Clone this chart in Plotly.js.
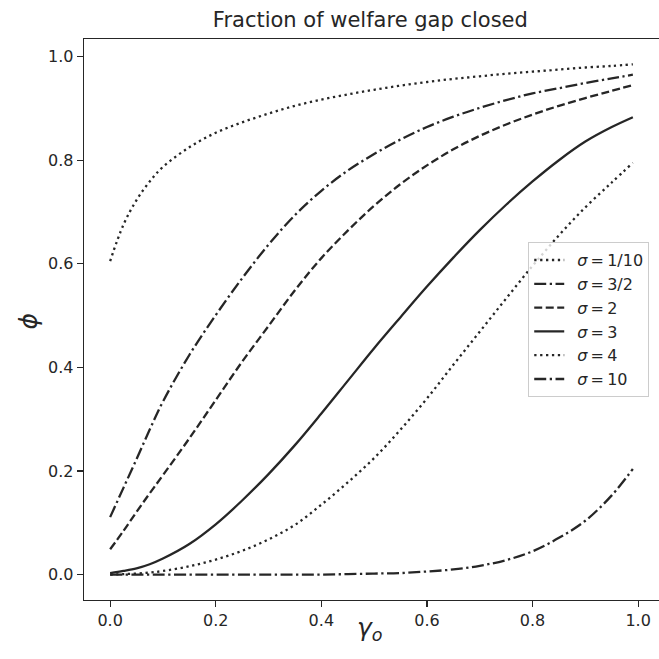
<!DOCTYPE html>
<html>
<head>
<meta charset="utf-8">
<script src="https://cdn.plot.ly/plotly-3.0.1.min.js"></script>
<style>html,body{margin:0;padding:0;background:#fff;}#chart{width:659px;height:659px;}</style>
</head>
<body>
<div id="chart"></div>
<script>
const gammaO = [0, 0.025, 0.05, 0.075, 0.1, 0.15, 0.2, 0.25, 0.3, 0.35, 0.4, 0.45, 0.5, 0.55, 0.6, 0.65, 0.7, 0.75, 0.8, 0.85, 0.9, 0.95, 0.99];
const phiSigma1_10 = [0.605, 0.675, 0.723, 0.759, 0.787, 0.825, 0.853, 0.873, 0.890, 0.905, 0.917, 0.927, 0.936, 0.944, 0.951, 0.957, 0.962, 0.967, 0.971, 0.975, 0.979, 0.982, 0.985];
const phiSigma3_2 = [0.111, 0.167, 0.223, 0.280, 0.334, 0.424, 0.501, 0.572, 0.637, 0.694, 0.741, 0.780, 0.812, 0.840, 0.864, 0.884, 0.901, 0.916, 0.929, 0.939, 0.949, 0.958, 0.965];
const phiSigma2 = [0.049, 0.084, 0.121, 0.157, 0.192, 0.263, 0.337, 0.411, 0.480, 0.549, 0.611, 0.664, 0.712, 0.754, 0.790, 0.821, 0.847, 0.869, 0.888, 0.905, 0.920, 0.934, 0.945];
const phiSigma3 = [0.003, 0.007, 0.012, 0.020, 0.031, 0.059, 0.097, 0.143, 0.194, 0.250, 0.311, 0.374, 0.437, 0.497, 0.556, 0.612, 0.665, 0.714, 0.759, 0.800, 0.836, 0.864, 0.883];
const phiSigma4 = [0.000, 0.001, 0.002, 0.004, 0.007, 0.016, 0.029, 0.046, 0.068, 0.096, 0.135, 0.178, 0.225, 0.280, 0.340, 0.405, 0.469, 0.533, 0.596, 0.655, 0.709, 0.757, 0.795];
const phiSigma10 = [0, 0, 0, 0, 0, 0, 0, 0, 0, 0, 0, 0.001, 0.002, 0.003, 0.006, 0.010, 0.017, 0.028, 0.045, 0.071, 0.104, 0.153, 0.204];
const seriesNames = ['\u2002<i>σ</i>\u2009=\u20091/10', '\u2002<i>σ</i>\u2009=\u20093/2', '\u2002<i>σ</i>\u2009=\u20092', '\u2002<i>σ</i>\u2009=\u20093', '\u2002<i>σ</i>\u2009=\u20094', '\u2002<i>σ</i>\u2009=\u200910'];
const seriesValues = [phiSigma1_10, phiSigma3_2, phiSigma2, phiSigma3, phiSigma4, phiSigma10];
const dashes = ['2.3px,3.6px', '12px,3.5px,2.3px,3.5px', '8px,3.5px', 'solid', '2.3px,3.6px', '12px,3.5px,2.3px,3.5px'];
const tickVals = [0, 0.2, 0.4, 0.6, 0.8, 1.0];
const tickText = ['0.0', '0.2', '0.4', '0.6', '0.8', '1.0'];

const ink = '#262626';
const traces = seriesValues.map((vals, i) => ({
  x: gammaO, y: vals, type: 'scatter', mode: 'lines', name: seriesNames[i],
  line: {color: ink, width: 2.3, dash: dashes[i], shape: 'spline', smoothing: 1}
}));

const layout = {
  width: 659, height: 659,
  margin: {l: 84, r: 0, t: 39, b: 59},
  paper_bgcolor: '#fff', plot_bgcolor: '#fff',
  font: {family: 'DejaVu Sans', color: ink, size: 16},
  title: {text: 'Fraction of welfare gap closed', font: {size: 21, color: ink}, x: 0.562, xanchor: 'center', y: 0.97, yanchor: 'middle'},
  xaxis: {
    range: [-0.0495, 1.0395], tickvals: tickVals, ticktext: tickText,
    showgrid: false, zeroline: false, showline: true, linecolor: ink, linewidth: 1.25, mirror: true,
    ticks: 'outside', ticklen: 6, tickwidth: 1.25, tickcolor: ink, tickfont: {size: 16, color: ink}
  },
  yaxis: {
    range: [-0.049, 1.034], tickvals: tickVals, ticktext: tickText,
    showgrid: false, zeroline: false, showline: true, linecolor: ink, linewidth: 1.25, mirror: false,
    ticks: 'outside', ticklen: 6, tickwidth: 1.25, tickcolor: ink, tickfont: {size: 16, color: ink}
  },
  annotations: [
    {text: '<i>γ</i><sub><i>o</i></sub>', xref: 'paper', yref: 'paper', x: 0.497, y: -0.052, xanchor: 'center', yanchor: 'middle', showarrow: false, font: {size: 25, color: ink}},
    {text: '<i>ϕ</i>', xref: 'paper', yref: 'paper', x: -0.097, y: 0.497, xanchor: 'center', yanchor: 'middle', textangle: -90, showarrow: false, font: {size: 25, color: ink}}
  ],
  legend: {
    x: 0.983, xanchor: 'right', y: 0.638, yanchor: 'top',
    bgcolor: 'rgba(255,255,255,0.8)', bordercolor: '#cccccc', borderwidth: 1,
    font: {size: 16, color: ink}, itemwidth: 30, tracegroupgap: 0
  },
  showlegend: true
};

Plotly.newPlot('chart', traces, layout, {staticPlot: true, displayModeBar: false});
</script>
</body>
</html>
